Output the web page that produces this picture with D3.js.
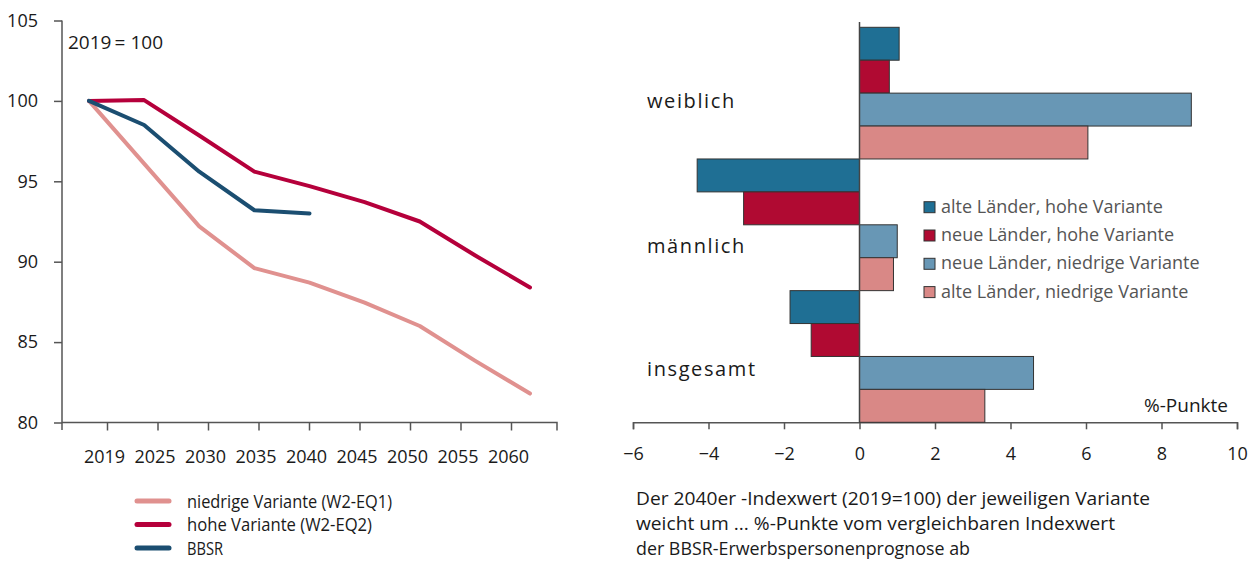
<!DOCTYPE html>
<html>
<head>
<meta charset="utf-8">
<script src="https://cdn.jsdelivr.net/npm/d3@7"></script>
<style>
  body { margin: 0; background: #fff; }
  svg { display: block; font-family: "Open Sans", sans-serif; }
  .axis path, .axis line { stroke: #555; stroke-width: 1.5; }
  .axis text { font-size: 18px; fill: #1a1a1a; font-family: "Open Sans", sans-serif; }
</style>
</head>
<body>
<script>
// left chart data (index, 2019 = 100)
var years = ["2019", "2025", "2030", "2035", "2040", "2045", "2050", "2055", "2060"];
var niedrig = [100, 96.1, 92.2, 89.6, 88.7, 87.45, 86.0, 83.85, 81.8];
var hoch = [100, 100.05, 97.85, 95.6, 94.7, 93.7, 92.5, 90.4, 88.4];
var bbsr = [100, 98.5, 95.6, 93.2, 93.0];
var lineNames = ["niedrige Variante (W2-EQ1)", "hohe Variante (W2-EQ2)", "BBSR"];
var lineColors = ["#e0918f", "#b5003b", "#1b4e71"];

// right chart data (%-Punkte)
var groups = ["weiblich", "männlich", "insgesamt"];
var barSeries = ["alte Länder, hohe Variante", "neue Länder, hohe Variante",
                 "neue Länder, niedrige Variante", "alte Länder, niedrige Variante"];
var barColors = ["#1f6f94", "#b00a32", "#6897b5", "#d98886"];
var weiblich = [1.05, 0.79, 8.79, 6.05];
var maennlich = [-4.3, -3.07, 1.0, 0.9];
var insgesamt = [-1.84, -1.28, 4.61, 3.32];
var barTicks = [-6, -4, -2, 0, 2, 4, 6, 8, 10];

var note = ["Der 2040er -Indexwert (2019=100) der jeweiligen Variante",
            "weicht  um ... %-Punkte vom vergleichbaren Indexwert",
            "der BBSR-Erwerbspersonenprognose ab"];

var svg = d3.select("body").append("svg")
   .attr("width", 1249)
   .attr("height", 561);

// ---------- left: line chart ----------
var y = d3.scaleLinear().domain([80, 105]).range([422.5, 20.5]);
var xTick = d3.scalePoint().domain(years).range([107, 511]);
var xLine = d3.scalePoint().domain(years).range([89, 530]);

var yAxis = svg.append("g")
   .attr("class", "axis")
   .attr("transform", "translate(62,0)")
   .call(d3.axisLeft(y).tickValues([80, 85, 90, 95, 100, 105]).tickSize(8).tickPadding(16));
yAxis.select(".domain").attr("d", "M0,20.5V430");

var xAxis = svg.append("g")
   .attr("class", "axis")
   .attr("transform", "translate(0,422.5)")
   .call(d3.axisBottom(xTick).tickSize(8).tickPadding(20));
xAxis.select(".domain").attr("d", "M62,0H557V8");
xAxis.selectAll(".tick text").attr("dx", -3);

svg.append("text")
   .attr("x", 68).attr("y", 49)
   .style("font-size", "19px").style("fill", "#1a1a1a")
   .text("2019\u2009= 100");

var line = d3.line()
   .x(function(d, i) { return xLine(years[i]); })
   .y(function(d) { return y(d); });

[niedrig, hoch, bbsr].forEach(function(s, k) {
   svg.append("path")
      .datum(s)
      .attr("d", line)
      .attr("fill", "none")
      .attr("stroke", lineColors[k])
      .attr("stroke-width", 4)
      .attr("stroke-linejoin", "round")
      .attr("stroke-linecap", "round");
});

// line legend
var lg = svg.append("g");
lineNames.forEach(function(n, k) {
   var yy = 501 + k * 23.5;
   lg.append("line")
      .attr("x1", 137).attr("x2", 169).attr("y1", yy).attr("y2", yy)
      .attr("stroke", lineColors[k]).attr("stroke-width", 5)
      .attr("stroke-linecap", "round");
   lg.append("text")
      .attr("x", 187).attr("y", yy + 6.5)
      .style("font-size", "18.5px").style("fill", "#1a1a1a")
      .attr("textLength", [205, 185, 36][k])
      .attr("lengthAdjust", "spacingAndGlyphs")
      .text(n);
});

// ---------- right: bar chart ----------
var xb = d3.scaleLinear().domain([-6, 10]).range([633, 1237]);
var yg = d3.scaleBand().domain(groups).range([27.3, 422.3]);
var ys = d3.scaleBand().domain(barSeries).range([0, yg.bandwidth()]);
var barData = [weiblich, maennlich, insgesamt];

var bx = svg.append("g")
   .attr("class", "axis")
   .attr("transform", "translate(0,422.3)")
   .call(d3.axisBottom(xb).tickValues(barTicks).tickSize(7).tickPadding(18));

groups.forEach(function(g, gi) {
   svg.append("g")
      .attr("transform", "translate(0," + yg(g) + ")")
      .selectAll("rect")
      .data(barData[gi])
      .join("rect")
      .attr("x", function(d) { return xb(Math.min(0, d)); })
      .attr("width", function(d) { return Math.abs(xb(d) - xb(0)); })
      .attr("y", function(d, i) { return ys(barSeries[i]); })
      .attr("height", ys.bandwidth())
      .attr("fill", function(d, i) { return barColors[i]; })
      .attr("stroke", "#333")
      .attr("stroke-width", 1);
});

// zero line
svg.append("line")
   .attr("x1", xb(0)).attr("x2", xb(0))
   .attr("y1", 22).attr("y2", 422.3)
   .attr("stroke", "#444").attr("stroke-width", 1.5);

// group labels
var labelDy = [15, 28, 19.7];
groups.forEach(function(g, gi) {
   svg.append("text")
      .attr("x", 647)
      .attr("y", yg(g) + yg.bandwidth() / 2 + labelDy[gi])
      .style("font-size", "20px")
      .style("letter-spacing", "1.6px")
      .style("fill", "#1a1a1a")
      .text(g);
});

svg.append("text")
   .attr("x", 1228).attr("y", 412)
   .attr("text-anchor", "end")
   .style("font-size", "19px").style("fill", "#1a1a1a")
   .text("%-Punkte");

// bar legend
var bl = svg.append("g");
barSeries.forEach(function(n, k) {
   var yy = 201.7 + k * 28.3;
   bl.append("rect")
      .attr("x", 924).attr("y", yy)
      .attr("width", 11).attr("height", 11)
      .attr("fill", barColors[k]).attr("stroke", "#333").attr("stroke-width", 1);
   bl.append("text")
      .attr("x", 941).attr("y", yy + 11)
      .style("font-size", "18px").style("fill", "#555")
      .text(n);
});

// note under bar chart
note.forEach(function(t, k) {
   svg.append("text")
      .attr("x", 636).attr("y", 505 + k * 25.2)
      .style("font-size", "17.5px").style("fill", "#1a1a1a")
      .attr("textLength", [514, 479, 334][k])
      .attr("lengthAdjust", "spacingAndGlyphs")
      .text(t);
});
</script>
</body>
</html>
